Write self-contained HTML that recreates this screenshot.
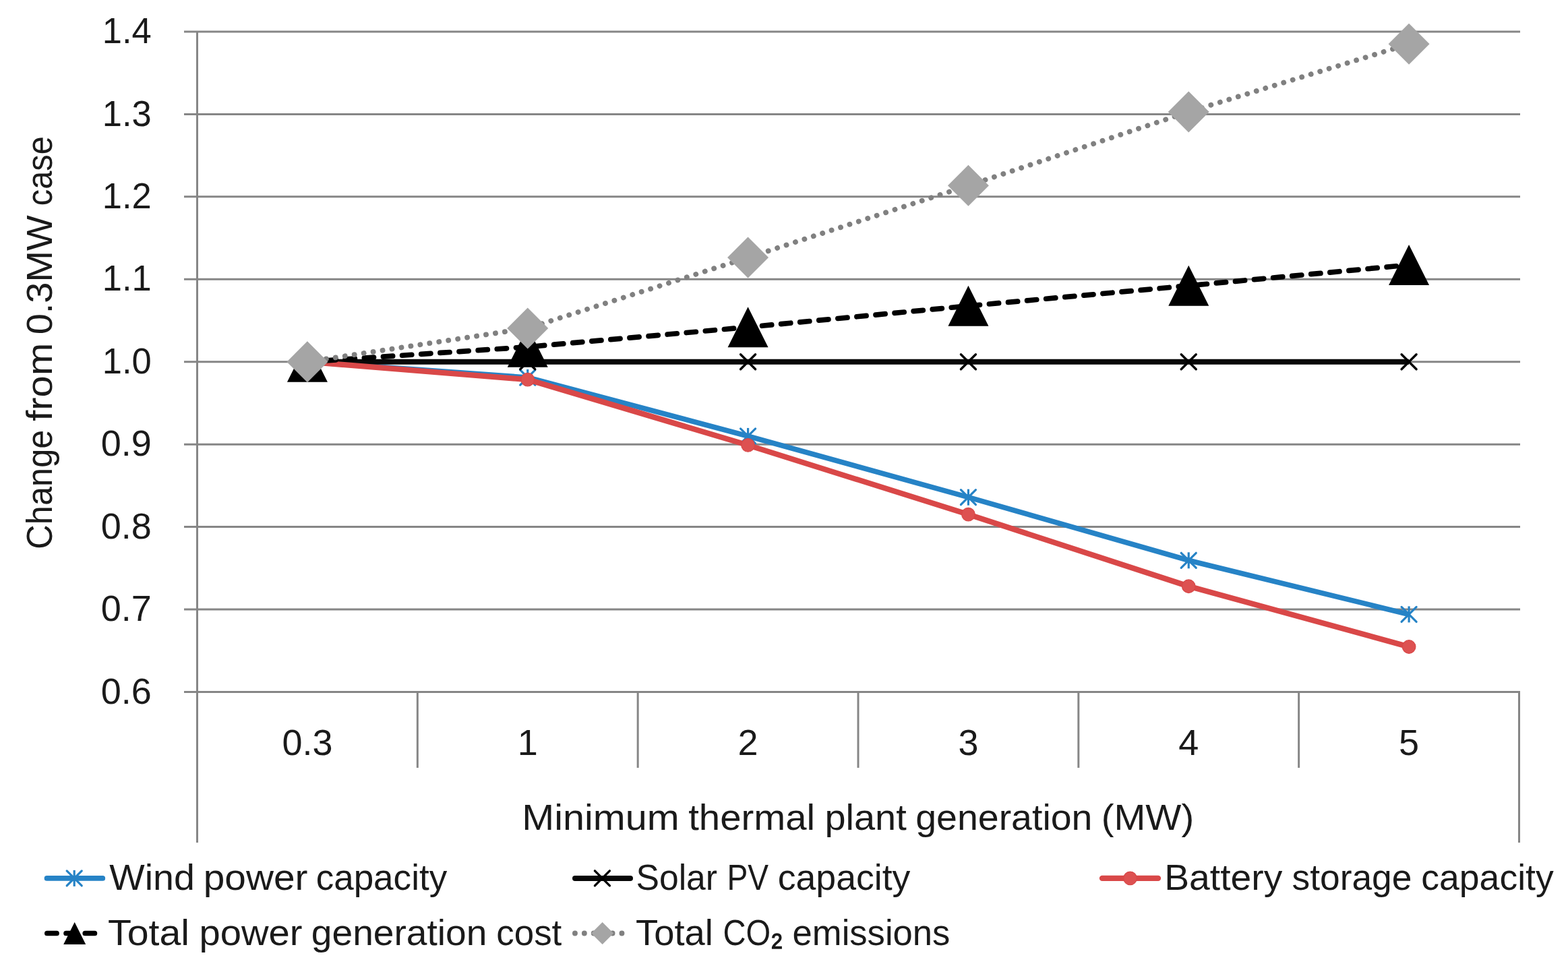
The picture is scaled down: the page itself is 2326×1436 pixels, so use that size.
<!DOCTYPE html>
<html><head><meta charset="utf-8"><title>Chart</title>
<style>html,body{margin:0;padding:0;background:#fff;}svg{display:block;}
text{font-family:'Liberation Sans', Arial, sans-serif;fill:#1a1a1a;}</style></head><body>
<svg width="2326" height="1436" viewBox="0 0 2326 1436">
<rect width="2326" height="1436" fill="#fff"/>
<g stroke="#868686" stroke-width="3" fill="none">
<line x1="273" y1="46.95" x2="2255.00" y2="46.95"/>
<line x1="273" y1="169.39" x2="2255.00" y2="169.39"/>
<line x1="273" y1="291.84" x2="2255.00" y2="291.84"/>
<line x1="273" y1="414.28" x2="2255.00" y2="414.28"/>
<line x1="273" y1="536.73" x2="2255.00" y2="536.73"/>
<line x1="273" y1="659.17" x2="2255.00" y2="659.17"/>
<line x1="273" y1="781.61" x2="2255.00" y2="781.61"/>
<line x1="273" y1="904.06" x2="2255.00" y2="904.06"/>
<line x1="273" y1="1026.50" x2="2255.00" y2="1026.50"/>
<line x1="292.5" y1="46.95" x2="292.5" y2="1250"/>
<line x1="2253.5" y1="1026.50" x2="2253.5" y2="1250"/>
<line x1="619.33" y1="1026.50" x2="619.33" y2="1139"/>
<line x1="946.17" y1="1026.50" x2="946.17" y2="1139"/>
<line x1="1273.00" y1="1026.50" x2="1273.00" y2="1139"/>
<line x1="1599.83" y1="1026.50" x2="1599.83" y2="1139"/>
<line x1="1926.67" y1="1026.50" x2="1926.67" y2="1139"/>
</g>
<g font-size="54" text-anchor="end">
<text x="224.8" y="64.15" textLength="73" lengthAdjust="spacingAndGlyphs">1.4</text>
<text x="224.8" y="186.59" textLength="73" lengthAdjust="spacingAndGlyphs">1.3</text>
<text x="224.8" y="309.04" textLength="73" lengthAdjust="spacingAndGlyphs">1.2</text>
<text x="224.8" y="431.48" textLength="73" lengthAdjust="spacingAndGlyphs">1.1</text>
<text x="224.8" y="553.93" textLength="73" lengthAdjust="spacingAndGlyphs">1.0</text>
<text x="224.9" y="676.37">0.9</text>
<text x="224.9" y="798.81">0.8</text>
<text x="224.9" y="921.26">0.7</text>
<text x="224.9" y="1043.70">0.6</text>
</g>
<g font-size="54" text-anchor="middle">
<text x="455.92" y="1120">0.3</text>
<text x="782.75" y="1120">1</text>
<text x="1109.58" y="1120">2</text>
<text x="1436.42" y="1120">3</text>
<text x="1763.25" y="1120">4</text>
<text x="2090.08" y="1120">5</text>
</g>
<g font-size="54">
<text x="774.24" y="1231" textLength="233.43" lengthAdjust="spacingAndGlyphs">Minimum</text>
<text x="1021.20" y="1231" textLength="187.78" lengthAdjust="spacingAndGlyphs">thermal</text>
<text x="1223.48" y="1231" textLength="121.24" lengthAdjust="spacingAndGlyphs">plant</text>
<text x="1358.21" y="1231" textLength="262.25" lengthAdjust="spacingAndGlyphs">generation</text>
<text x="1633.73" y="1231" textLength="137.47" lengthAdjust="spacingAndGlyphs">(MW)</text>
<text x="162.20" y="1320" textLength="126.61" lengthAdjust="spacingAndGlyphs">Wind</text>
<text x="301.75" y="1320" textLength="154.63" lengthAdjust="spacingAndGlyphs">power</text>
<text x="468.64" y="1320" textLength="194.54" lengthAdjust="spacingAndGlyphs">capacity</text>
<text x="943.50" y="1320" textLength="120.51" lengthAdjust="spacingAndGlyphs">Solar</text>
<text x="1078.39" y="1320" textLength="61.56" lengthAdjust="spacingAndGlyphs">PV</text>
<text x="1153.72" y="1320" textLength="196.68" lengthAdjust="spacingAndGlyphs">capacity</text>
<text x="1727.19" y="1320" textLength="175.11" lengthAdjust="spacingAndGlyphs">Battery</text>
<text x="1916.51" y="1320" textLength="177.89" lengthAdjust="spacingAndGlyphs">storage</text>
<text x="2108.32" y="1320" textLength="196.39" lengthAdjust="spacingAndGlyphs">capacity</text>
<text x="160.02" y="1402" textLength="121.01" lengthAdjust="spacingAndGlyphs">Total</text>
<text x="295.49" y="1402" textLength="153.06" lengthAdjust="spacingAndGlyphs">power</text>
<text x="461.82" y="1402" textLength="260.61" lengthAdjust="spacingAndGlyphs">generation</text>
<text x="736.29" y="1402" textLength="97.04" lengthAdjust="spacingAndGlyphs">cost</text>
<text x="943.07" y="1402" textLength="114.78" lengthAdjust="spacingAndGlyphs">Total</text>
<text x="1072.53" y="1402" textLength="89.00" lengthAdjust="spacingAndGlyphs">CO<tspan stroke="#1a1a1a" stroke-width="1.6">₂</tspan></text>
<text x="1175.62" y="1402" textLength="233.73" lengthAdjust="spacingAndGlyphs">emissions</text>
<text transform="translate(77.2,814.70) rotate(-90)" textLength="177.07" lengthAdjust="spacingAndGlyphs">Change</text>
<text transform="translate(77.2,624.81) rotate(-90)" textLength="116.01" lengthAdjust="spacingAndGlyphs">from</text>
<text transform="translate(77.2,496.29) rotate(-90)" textLength="177.21" lengthAdjust="spacingAndGlyphs">0.3MW</text>
<text transform="translate(77.2,305.24) rotate(-90)" textLength="103.14" lengthAdjust="spacingAndGlyphs">case</text>
</g>
<polyline points="455.92,536.72 782.75,559.99 1109.58,646.92 1436.42,737.66 1763.25,831.32 2090.08,911.40" fill="none" stroke="#2683C6" stroke-width="7.7" stroke-linejoin="round"/>
<g stroke="#2683C6" stroke-width="3.2" stroke-linecap="round" fill="none"><line x1="455.92" y1="524.72" x2="455.92" y2="548.72" stroke-linecap="butt"/><line x1="444.88" y1="525.68" x2="466.96" y2="547.76"/><line x1="444.88" y1="547.76" x2="466.96" y2="525.68"/></g>
<g stroke="#2683C6" stroke-width="3.2" stroke-linecap="round" fill="none"><line x1="782.75" y1="547.99" x2="782.75" y2="571.99" stroke-linecap="butt"/><line x1="771.71" y1="548.95" x2="793.79" y2="571.03"/><line x1="771.71" y1="571.03" x2="793.79" y2="548.95"/></g>
<g stroke="#2683C6" stroke-width="3.2" stroke-linecap="round" fill="none"><line x1="1109.58" y1="634.92" x2="1109.58" y2="658.92" stroke-linecap="butt"/><line x1="1098.54" y1="635.88" x2="1120.62" y2="657.96"/><line x1="1098.54" y1="657.96" x2="1120.62" y2="635.88"/></g>
<g stroke="#2683C6" stroke-width="3.2" stroke-linecap="round" fill="none"><line x1="1436.42" y1="725.66" x2="1436.42" y2="749.66" stroke-linecap="butt"/><line x1="1425.38" y1="726.62" x2="1447.46" y2="748.70"/><line x1="1425.38" y1="748.70" x2="1447.46" y2="726.62"/></g>
<g stroke="#2683C6" stroke-width="3.2" stroke-linecap="round" fill="none"><line x1="1763.25" y1="819.32" x2="1763.25" y2="843.32" stroke-linecap="butt"/><line x1="1752.21" y1="820.28" x2="1774.29" y2="842.36"/><line x1="1752.21" y1="842.36" x2="1774.29" y2="820.28"/></g>
<g stroke="#2683C6" stroke-width="3.2" stroke-linecap="round" fill="none"><line x1="2090.08" y1="899.40" x2="2090.08" y2="923.40" stroke-linecap="butt"/><line x1="2079.04" y1="900.36" x2="2101.12" y2="922.44"/><line x1="2079.04" y1="922.44" x2="2101.12" y2="900.36"/></g>
<polyline points="455.92,536.72 782.75,536.72 1109.58,536.72 1436.42,536.72 1763.25,536.72 2090.08,536.72" fill="none" stroke="#080808" stroke-width="7.9" stroke-linejoin="round"/>
<g stroke="#000" stroke-width="3.4" stroke-linecap="round"><line x1="444.92" y1="525.72" x2="466.92" y2="547.72"/><line x1="444.92" y1="547.72" x2="466.92" y2="525.72"/></g>
<g stroke="#000" stroke-width="3.4" stroke-linecap="round"><line x1="771.75" y1="525.72" x2="793.75" y2="547.72"/><line x1="771.75" y1="547.72" x2="793.75" y2="525.72"/></g>
<g stroke="#000" stroke-width="3.4" stroke-linecap="round"><line x1="1098.58" y1="525.72" x2="1120.58" y2="547.72"/><line x1="1098.58" y1="547.72" x2="1120.58" y2="525.72"/></g>
<g stroke="#000" stroke-width="3.4" stroke-linecap="round"><line x1="1425.42" y1="525.72" x2="1447.42" y2="547.72"/><line x1="1425.42" y1="547.72" x2="1447.42" y2="525.72"/></g>
<g stroke="#000" stroke-width="3.4" stroke-linecap="round"><line x1="1752.25" y1="525.72" x2="1774.25" y2="547.72"/><line x1="1752.25" y1="547.72" x2="1774.25" y2="525.72"/></g>
<g stroke="#000" stroke-width="3.4" stroke-linecap="round"><line x1="2079.08" y1="525.72" x2="2101.08" y2="547.72"/><line x1="2079.08" y1="547.72" x2="2101.08" y2="525.72"/></g>
<polyline points="455.92,536.72 782.75,563.05 1109.58,660.39 1436.42,763.12 1763.25,869.77 2090.08,959.52" fill="none" stroke="#D94848" stroke-width="8.2" stroke-linejoin="round"/>
<circle cx="455.92" cy="536.72" r="9.8" fill="#DD5151" stroke="#D94848" stroke-width="1.2"/>
<circle cx="782.75" cy="563.05" r="9.8" fill="#DD5151" stroke="#D94848" stroke-width="1.2"/>
<circle cx="1109.58" cy="660.39" r="9.8" fill="#DD5151" stroke="#D94848" stroke-width="1.2"/>
<circle cx="1436.42" cy="763.12" r="9.8" fill="#DD5151" stroke="#D94848" stroke-width="1.2"/>
<circle cx="1763.25" cy="869.77" r="9.8" fill="#DD5151" stroke="#D94848" stroke-width="1.2"/>
<circle cx="2090.08" cy="959.52" r="9.8" fill="#DD5151" stroke="#D94848" stroke-width="1.2"/>
<polyline points="455.92,536.72 782.75,514.69 1109.58,485.30 1436.42,453.83 1763.25,423.83 2090.08,392.98" fill="none" stroke="#000" stroke-width="7.7" stroke-linecap="round" stroke-dasharray="14.2 14.0"/>
<polygon points="455.92,506.72 485.92,566.72 425.92,566.72" fill="#000"/>
<polygon points="782.75,484.69 812.75,544.69 752.75,544.69" fill="#000"/>
<polygon points="1109.58,455.30 1139.58,515.30 1079.58,515.30" fill="#000"/>
<polygon points="1436.42,423.83 1466.42,483.83 1406.42,483.83" fill="#000"/>
<polygon points="1763.25,393.83 1793.25,453.83 1733.25,453.83" fill="#000"/>
<polygon points="2090.08,362.98 2120.08,422.98 2060.08,422.98" fill="#000"/>
<polyline points="455.92,536.72 782.75,487.01 1109.58,382.08 1436.42,275.31 1763.25,165.97 2090.08,65.32" fill="none" stroke="#808080" stroke-width="7.8" stroke-linecap="round" stroke-dasharray="0.1 14.01"/>
<polygon points="455.92,506.22 486.42,536.72 455.92,567.22 425.42,536.72" fill="#A5A5A5"/>
<polygon points="782.75,456.51 813.25,487.01 782.75,517.51 752.25,487.01" fill="#A5A5A5"/>
<polygon points="1109.58,351.58 1140.08,382.08 1109.58,412.58 1079.08,382.08" fill="#A5A5A5"/>
<polygon points="1436.42,244.81 1466.92,275.31 1436.42,305.81 1405.92,275.31" fill="#A5A5A5"/>
<polygon points="1763.25,135.47 1793.75,165.97 1763.25,196.47 1732.75,165.97" fill="#A5A5A5"/>
<polygon points="2090.08,34.82 2120.58,65.32 2090.08,95.82 2059.58,65.32" fill="#A5A5A5"/>
<line x1="69.5" y1="1302.9" x2="152.3" y2="1302.9" stroke="#2683C6" stroke-width="7.7" stroke-linecap="round"/>
<g stroke="#2683C6" stroke-width="3.2" stroke-linecap="round" fill="none"><line x1="110.20" y1="1290.90" x2="110.20" y2="1314.90" stroke-linecap="butt"/><line x1="99.16" y1="1291.86" x2="121.24" y2="1313.94"/><line x1="99.16" y1="1313.94" x2="121.24" y2="1291.86"/></g>
<line x1="853" y1="1302.9" x2="935" y2="1302.9" stroke="#080808" stroke-width="8" stroke-linecap="round"/>
<g stroke="#000" stroke-width="3.4" stroke-linecap="round"><line x1="882.40" y1="1291.90" x2="904.40" y2="1313.90"/><line x1="882.40" y1="1313.90" x2="904.40" y2="1291.90"/></g>
<line x1="1635" y1="1302.9" x2="1718" y2="1302.9" stroke="#D94848" stroke-width="8.3" stroke-linecap="round"/>
<circle cx="1676.50" cy="1302.90" r="9.8" fill="#DD5151" stroke="#D94848" stroke-width="1.2"/>
<line x1="69.85" y1="1384.5" x2="140.4" y2="1384.5" stroke="#000" stroke-width="7.7" stroke-linecap="round" stroke-dasharray="14.2 14.0"/>
<polygon points="110.70,1368.00 127.20,1401.00 94.20,1401.00" fill="#000"/>
<line x1="852.9" y1="1384.5" x2="923" y2="1384.5" stroke="#808080" stroke-width="7.8" stroke-linecap="round" stroke-dasharray="0.1 13.8"/>
<polygon points="893.60,1368.00 910.10,1384.50 893.60,1401.00 877.10,1384.50" fill="#A5A5A5"/>
</svg></body></html>
